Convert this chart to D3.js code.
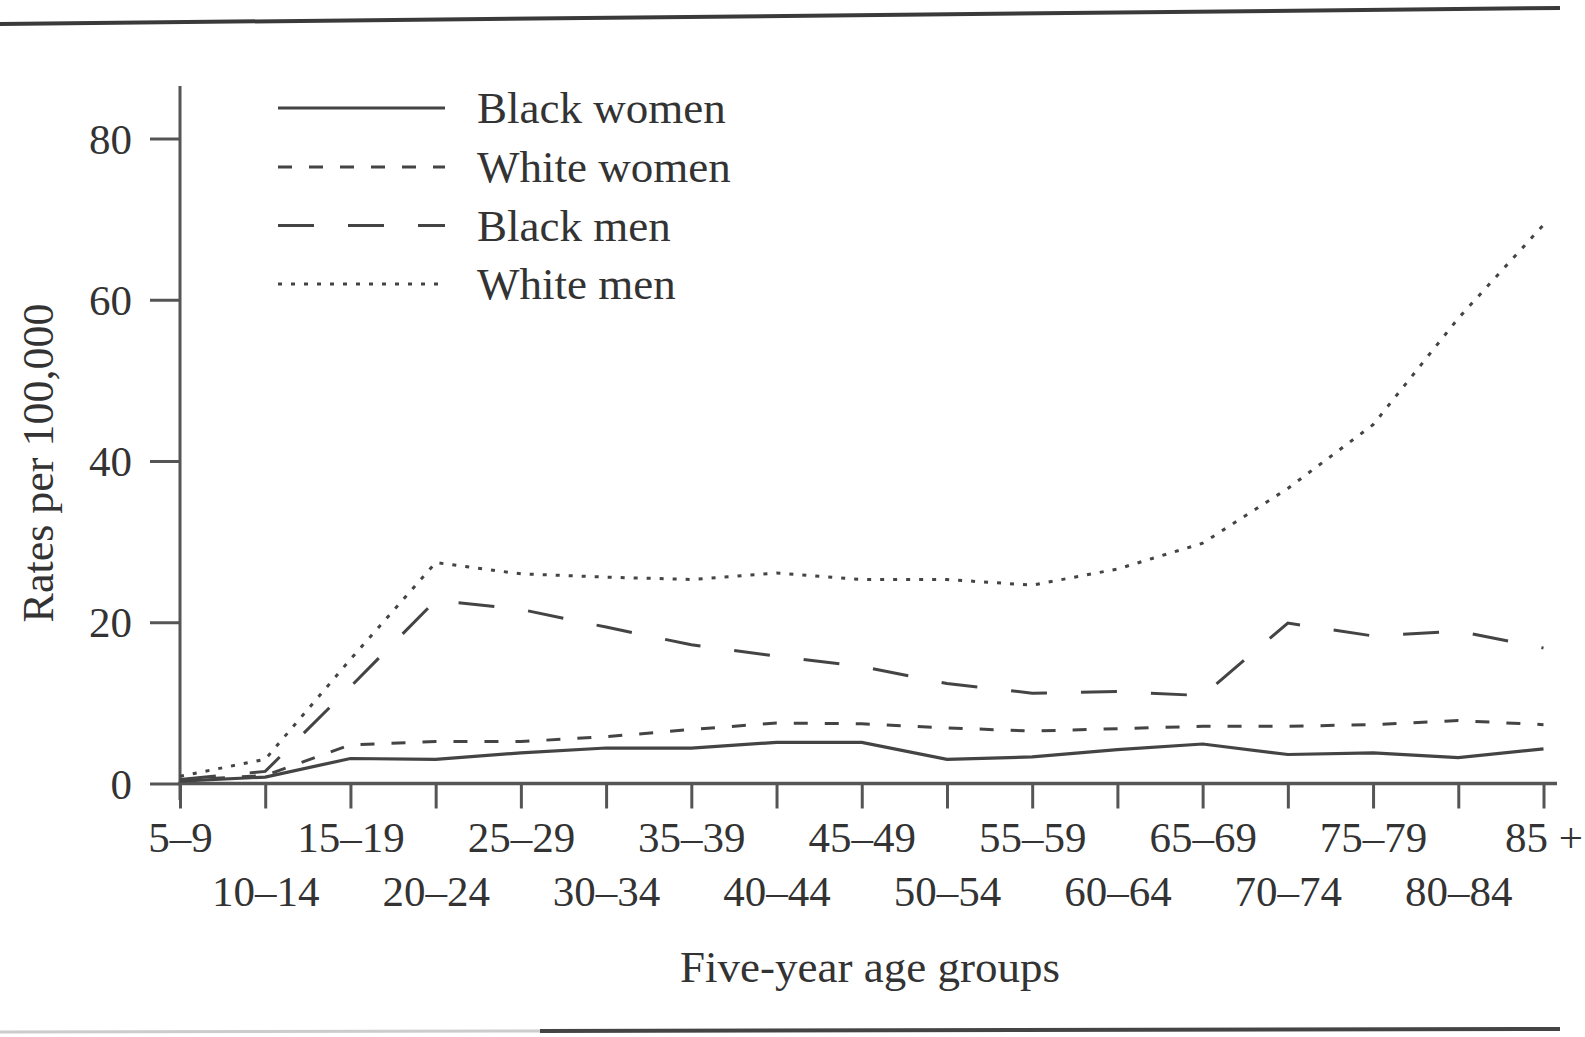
<!DOCTYPE html>
<html>
<head>
<meta charset="utf-8">
<script src="https://cdn.jsdelivr.net/npm/d3@7"></script>
<style>
  html, body { margin: 0; padding: 0; background: #fff; }
  svg { display: block; }
  text { font-family: "Liberation Serif", "DejaVu Serif", serif; fill: #333; }
</style>
</head>
<body>
<svg id="chart" width="1585" height="1037"></svg>
<script>
const ageGroups = ["5–9","10–14","15–19","20–24","25–29","30–34","35–39","40–44","45–49","50–54","55–59","60–64","65–69","70–74","75–79","80–84","85 +"];
const blackWomen = [0.3, 0.8, 3.1, 3.0, 3.8, 4.4, 4.4, 5.1, 5.1, 3.0, 3.3, 4.2, 4.9, 3.6, 3.8, 3.2, 4.3];
const whiteWomen = [0.4, 1.0, 4.8, 5.2, 5.2, 5.8, 6.7, 7.5, 7.4, 6.9, 6.5, 6.8, 7.1, 7.1, 7.3, 7.8, 7.3];
const blackMen   = [0.5, 1.5, 12.0, 22.7, 21.6, 19.4, 17.2, 15.8, 14.5, 12.4, 11.2, 11.4, 10.9, 19.9, 18.3, 18.9, 16.8];
const whiteMen   = [0.9, 3.0, 15.4, 27.4, 26.0, 25.6, 25.3, 26.1, 25.3, 25.3, 24.6, 26.6, 29.8, 36.6, 44.5, 57.7, 69.3];
const yTicks = [0, 20, 40, 60, 80];
const seriesNames = ["Black women", "White women", "Black men", "White men"];

const series = [
  { name: seriesNames[0], values: blackWomen, dash: null, width: 3.2 },
  { name: seriesNames[1], values: whiteWomen, dash: "14,17", width: 3 },
  { name: seriesNames[2], values: blackMen, dash: "36,34", width: 3 },
  { name: seriesNames[3], values: whiteMen, dash: "4,9", width: 3 }
];

const svg = d3.select("#chart");
const lineColor = "#444";

// scanned page rules
svg.append("line").attr("x1", 0).attr("y1", 24).attr("x2", 1560).attr("y2", 8)
  .attr("stroke", "#3a3a3a").attr("stroke-width", 4);
svg.append("line").attr("x1", 0).attr("y1", 1032).attr("x2", 540).attr("y2", 1031)
  .attr("stroke", "#ccc").attr("stroke-width", 3);
svg.append("line").attr("x1", 540).attr("y1", 1031).attr("x2", 1560).attr("y2", 1029)
  .attr("stroke", "#444").attr("stroke-width", 4);

const x = d3.scalePoint().domain(ageGroups).range([180, 1543.5]);
const y = d3.scaleLinear().domain([0, 80]).range([783.5, 138.5]);

// Y axis
const yAxis = svg.append("g").attr("transform", "translate(180,0)")
  .call(d3.axisLeft(y).tickValues(yTicks).tickSize(30).tickPadding(18).tickSizeOuter(0));
yAxis.select(".domain").remove();
yAxis.selectAll(".tick line").attr("stroke", "#555").attr("stroke-width", 3);
yAxis.selectAll(".tick text").attr("font-size", 43).attr("font-family", "Liberation Serif").attr("fill", "#333").attr("dy", "0.34em");
svg.append("line").attr("x1", 180).attr("x2", 180).attr("y1", 86).attr("y2", 800)
  .attr("stroke", "#555").attr("stroke-width", 3);

// X axis
const xAxis = svg.append("g").attr("transform", "translate(0,783.5)")
  .call(d3.axisBottom(x).tickSize(25).tickSizeOuter(0));
xAxis.select(".domain").remove();
xAxis.selectAll(".tick line").attr("stroke", "#555").attr("stroke-width", 3);
xAxis.selectAll(".tick text")
  .attr("font-size", 43).attr("font-family", "Liberation Serif").attr("fill", "#333")
  .attr("dy", null)
  .attr("y", (d, i) => i % 2 === 0 ? 68 : 122);
svg.append("line").attr("x1", 178).attr("x2", 1557).attr("y1", 783.5).attr("y2", 783.5)
  .attr("stroke", "#555").attr("stroke-width", 3.5);

// Lines
const line = d3.line().x((d, i) => x(ageGroups[i])).y(d => y(d));
series.forEach(s => {
  svg.append("path").datum(s.values)
    .attr("d", line)
    .attr("fill", "none")
    .attr("stroke", lineColor)
    .attr("stroke-width", s.width)
    .attr("stroke-dasharray", s.dash);
});

// Legend
const legendY = [108, 167, 225.5, 284];
series.forEach((s, i) => {
  svg.append("line").attr("x1", 278).attr("x2", 445)
    .attr("y1", legendY[i]).attr("y2", legendY[i])
    .attr("stroke", lineColor).attr("stroke-width", s.width)
    .attr("stroke-dasharray", s.dash);
  svg.append("text").attr("x", 477).attr("y", legendY[i] + 15)
    .attr("font-size", 45).text(s.name);
});

// Axis titles
svg.append("text").attr("x", 870).attr("y", 982).attr("text-anchor", "middle")
  .attr("font-size", 45).text("Five-year age groups");
svg.append("text").attr("transform", "translate(53,463) rotate(-90)")
  .attr("text-anchor", "middle").attr("font-size", 44).text("Rates per 100,000");
</script>
</body>
</html>
